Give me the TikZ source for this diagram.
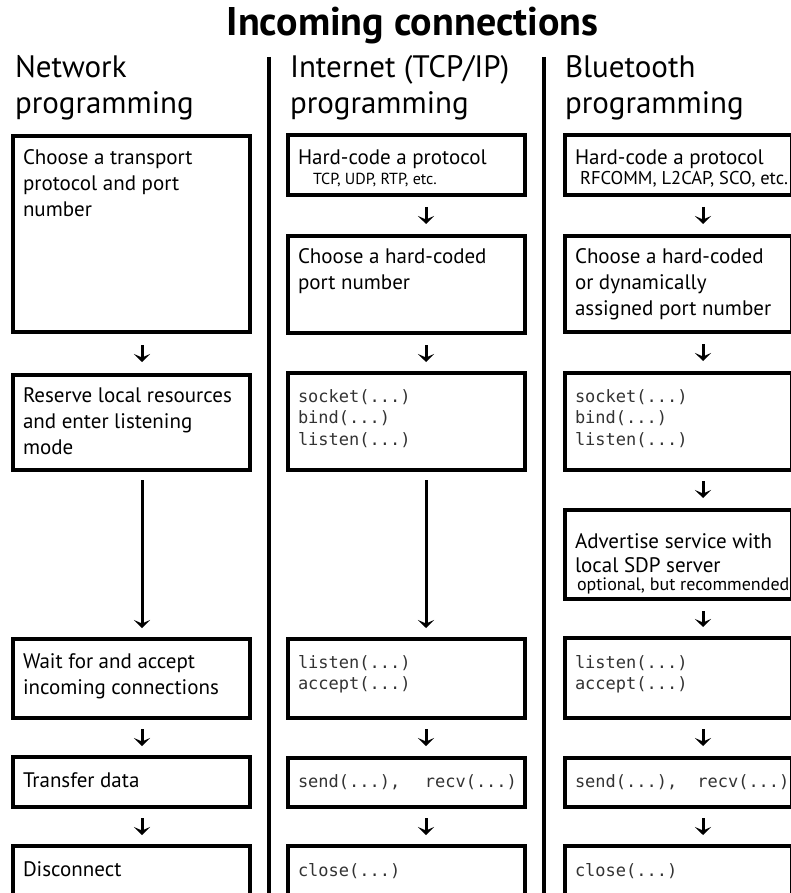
\documentclass[tikz,border=0pt]{standalone}
\usepackage{fontspec}
\setmainfont{PT Sans}
\setmonofont{DejaVu Sans Mono}
\usetikzlibrary{arrows.meta}

% font sizes (1pt = 1 unit of the drawing)
\newcommand\titlefont{\fontsize{40pt}{44pt}\selectfont\bfseries}
\newcommand\headfont{\fontsize{31pt}{36pt}\selectfont}
\newcommand\bodyfont{\fontsize{21pt}{26pt}\selectfont}
\newcommand\codefont{\ttfamily\fontsize{17pt}{21.5pt}\selectfont\color{black!80}}
\newcommand\tcpfont{\fontsize{16pt}{18pt}\selectfont}
\newcommand\btfont{\fontsize{18.5pt}{20pt}\selectfont}
\newcommand\notefont{\fontsize{18pt}{20pt}\selectfont}

% text block of a step: height, width, first baseline, lines
\newcommand\steptext[4]{%
  \parbox[t][#1pt][t]{#2pt}{\leftskip=10pt\rightskip=0pt plus 1fil\parindent=0pt\rule{0pt}{#3pt}#4}}
% column heading: two lines, first baseline 27.5 below the top
\newcommand\headtext[1]{%
  \parbox[t]{260pt}{\parindent=0pt\rule{0pt}{27.5pt}#1}}
% gap between the two calls of a transfer step
\newcommand\callgap[1]{\hspace*{#1pt}}

\tikzset{
  stepbox/.style={draw, line width=4pt, inner sep=0pt, outer sep=0pt, anchor=north west, font=\bodyfont},
  codebox/.style={stepbox, font=\codefont},
  heading/.style={inner sep=0pt, outer sep=0pt, anchor=north west, font=\headfont},
  divider/.style={line width=4pt},
  flow/.style={line width=3pt, -{Stealth[length=8pt, width=16pt, inset=3.5pt]}},
}

\begin{document}
\begin{tikzpicture}[x=1pt, y=-1pt]
\useasboundingbox (0,0) rectangle (791,893);
\clip (0,0) rectangle (791,893);
\fill[white] (0,0) rectangle (791,893);

% title
\node[anchor=base, inner sep=0pt, font=\titlefont] (title) at (412.5,36) {Incoming connections};

% column dividers
\coordinate (d1top) at (269,57);
\coordinate (d1bot) at (269,900);
\coordinate (d2top) at (544,57);
\coordinate (d2bot) at (544,900);
\draw[divider] (d1top) -- (d1bot);
\draw[divider] (d2top) -- (d2bot);

% column headings
\node[heading] (h1) at (15,50)  {\headtext{Network\\programming}};
\node[heading] (h2) at (290,50) {\headtext{Internet (TCP/IP)\\programming}};
\node[heading] (h3) at (565,50) {\headtext{Bluetooth\\programming}};

% ---- network programming ----
\node[stepbox] (n1a) at (13,136) {\steptext{196}{237}{29}{Choose a transport\\protocol and port\\number}};
\node[stepbox] (n1b) at (13,375) {\steptext{95}{237}{27}{Reserve local resources\\and enter listening\\mode}};
\node[stepbox] (n1c) at (13,639) {\steptext{79}{237}{29}{Wait for and accept\\incoming connections}};
\node[stepbox] (n1d) at (13,757) {\steptext{50}{237}{30}{Transfer data}};
\node[stepbox] (n1e) at (13,846) {\steptext{80}{237}{30}{Disconnect}};

% ---- internet programming ----
\node[stepbox] (n2a) at (288,135) {\steptext{60}{237}{30}{Hard-code a protocol\\[-6pt]\hspace*{15pt}{\tcpfont TCP, UDP, RTP, etc.}}};
\node[stepbox] (n2b) at (288,236) {\steptext{97}{237}{27}{Choose a hard-coded\\port number}};
\node[codebox] (n2c) at (288,373) {\steptext{97}{237}{29}{socket(...)\\bind(...)\\listen(...)}};
\node[codebox] (n2d) at (288,639) {\steptext{79}{237}{29}{listen(...)\\accept(...)}};
\node[codebox] (n2e) at (288,758) {\steptext{49}{237}{29}{send(...),\callgap{24.5}recv(...)}};
\node[codebox] (n2f) at (288,846) {\steptext{80}{237}{30}{close(...)}};

% ---- bluetooth programming ----
\node[stepbox] (n3a) at (565,135) {\steptext{60}{227}{30}{Hard-code a protocol\\[-6pt]\hspace*{5pt}{\btfont RFCOMM, L2CAP, SCO, etc.}}};
\node[stepbox] (n3b) at (565,236) {\steptext{96}{227}{27}{Choose a hard-coded\\or dynamically\\assigned port number}};
\node[codebox] (n3c) at (565,373) {\steptext{97}{227}{29}{socket(...)\\bind(...)\\listen(...)}};
\node[stepbox] (n3d) at (565,510) {\steptext{89}{227}{38}{Advertise service with\\[-2pt]local SDP server\\[-8pt]\hspace*{2pt}{\notefont optional, but recommended}}};
\node[codebox] (n3e) at (565,638) {\steptext{80}{227}{30}{listen(...)\\accept(...)}};
\node[codebox] (n3f) at (565,758) {\steptext{49}{227}{29}{send(...),\callgap{20}recv(...)}};
\node[codebox] (n3g) at (565,846) {\steptext{80}{227}{30}{close(...)}};

% ---- flow arrows ----
\draw[flow, shorten <=13pt, shorten >=13pt] ([xshift=129pt]n1a.south west) -- ([xshift=129pt]n1b.north west);
\draw[flow, shorten <=10pt, shorten >=11pt] ([xshift=129pt]n1b.south west) -- ([xshift=129pt]n1c.north west);
\draw[flow, shorten <=11pt, shorten >=11pt] ([xshift=129pt]n1c.south west) -- ([xshift=129pt]n1d.north west);
\draw[flow, shorten <=11pt, shorten >=11pt] ([xshift=129pt]n1d.south west) -- ([xshift=129pt]n1e.north west);

\draw[flow, shorten <=12pt, shorten >=12pt] ([xshift=138pt]n2a.south west) -- ([xshift=138pt]n2b.north west);
\draw[flow, shorten <=12pt, shorten >=11pt] ([xshift=138pt]n2b.south west) -- ([xshift=138pt]n2c.north west);
\draw[flow, shorten <=10pt, shorten >=11pt] ([xshift=138pt]n2c.south west) -- ([xshift=138pt]n2d.north west);
\draw[flow, shorten <=11pt, shorten >=12pt] ([xshift=138pt]n2d.south west) -- ([xshift=138pt]n2e.north west);
\draw[flow, shorten <=11pt, shorten >=11pt] ([xshift=138pt]n2e.south west) -- ([xshift=138pt]n2f.north west);

\draw[flow, shorten <=12pt, shorten >=12pt] ([xshift=138pt]n3a.south west) -- ([xshift=138pt]n3b.north west);
\draw[flow, shorten <=12pt, shorten >=12pt] ([xshift=138pt]n3b.south west) -- ([xshift=138pt]n3c.north west);
\draw[flow, shorten <=11pt, shorten >=12pt] ([xshift=138pt]n3c.south west) -- ([xshift=138pt]n3d.north west);
\draw[flow, shorten <=12pt, shorten >=11pt] ([xshift=138pt]n3d.south west) -- ([xshift=138pt]n3e.north west);
\draw[flow, shorten <=11pt, shorten >=12pt] ([xshift=138pt]n3e.south west) -- ([xshift=138pt]n3f.north west);
\draw[flow, shorten <=11pt, shorten >=11pt] ([xshift=138pt]n3f.south west) -- ([xshift=138pt]n3g.north west);
\end{tikzpicture}
\end{document}
